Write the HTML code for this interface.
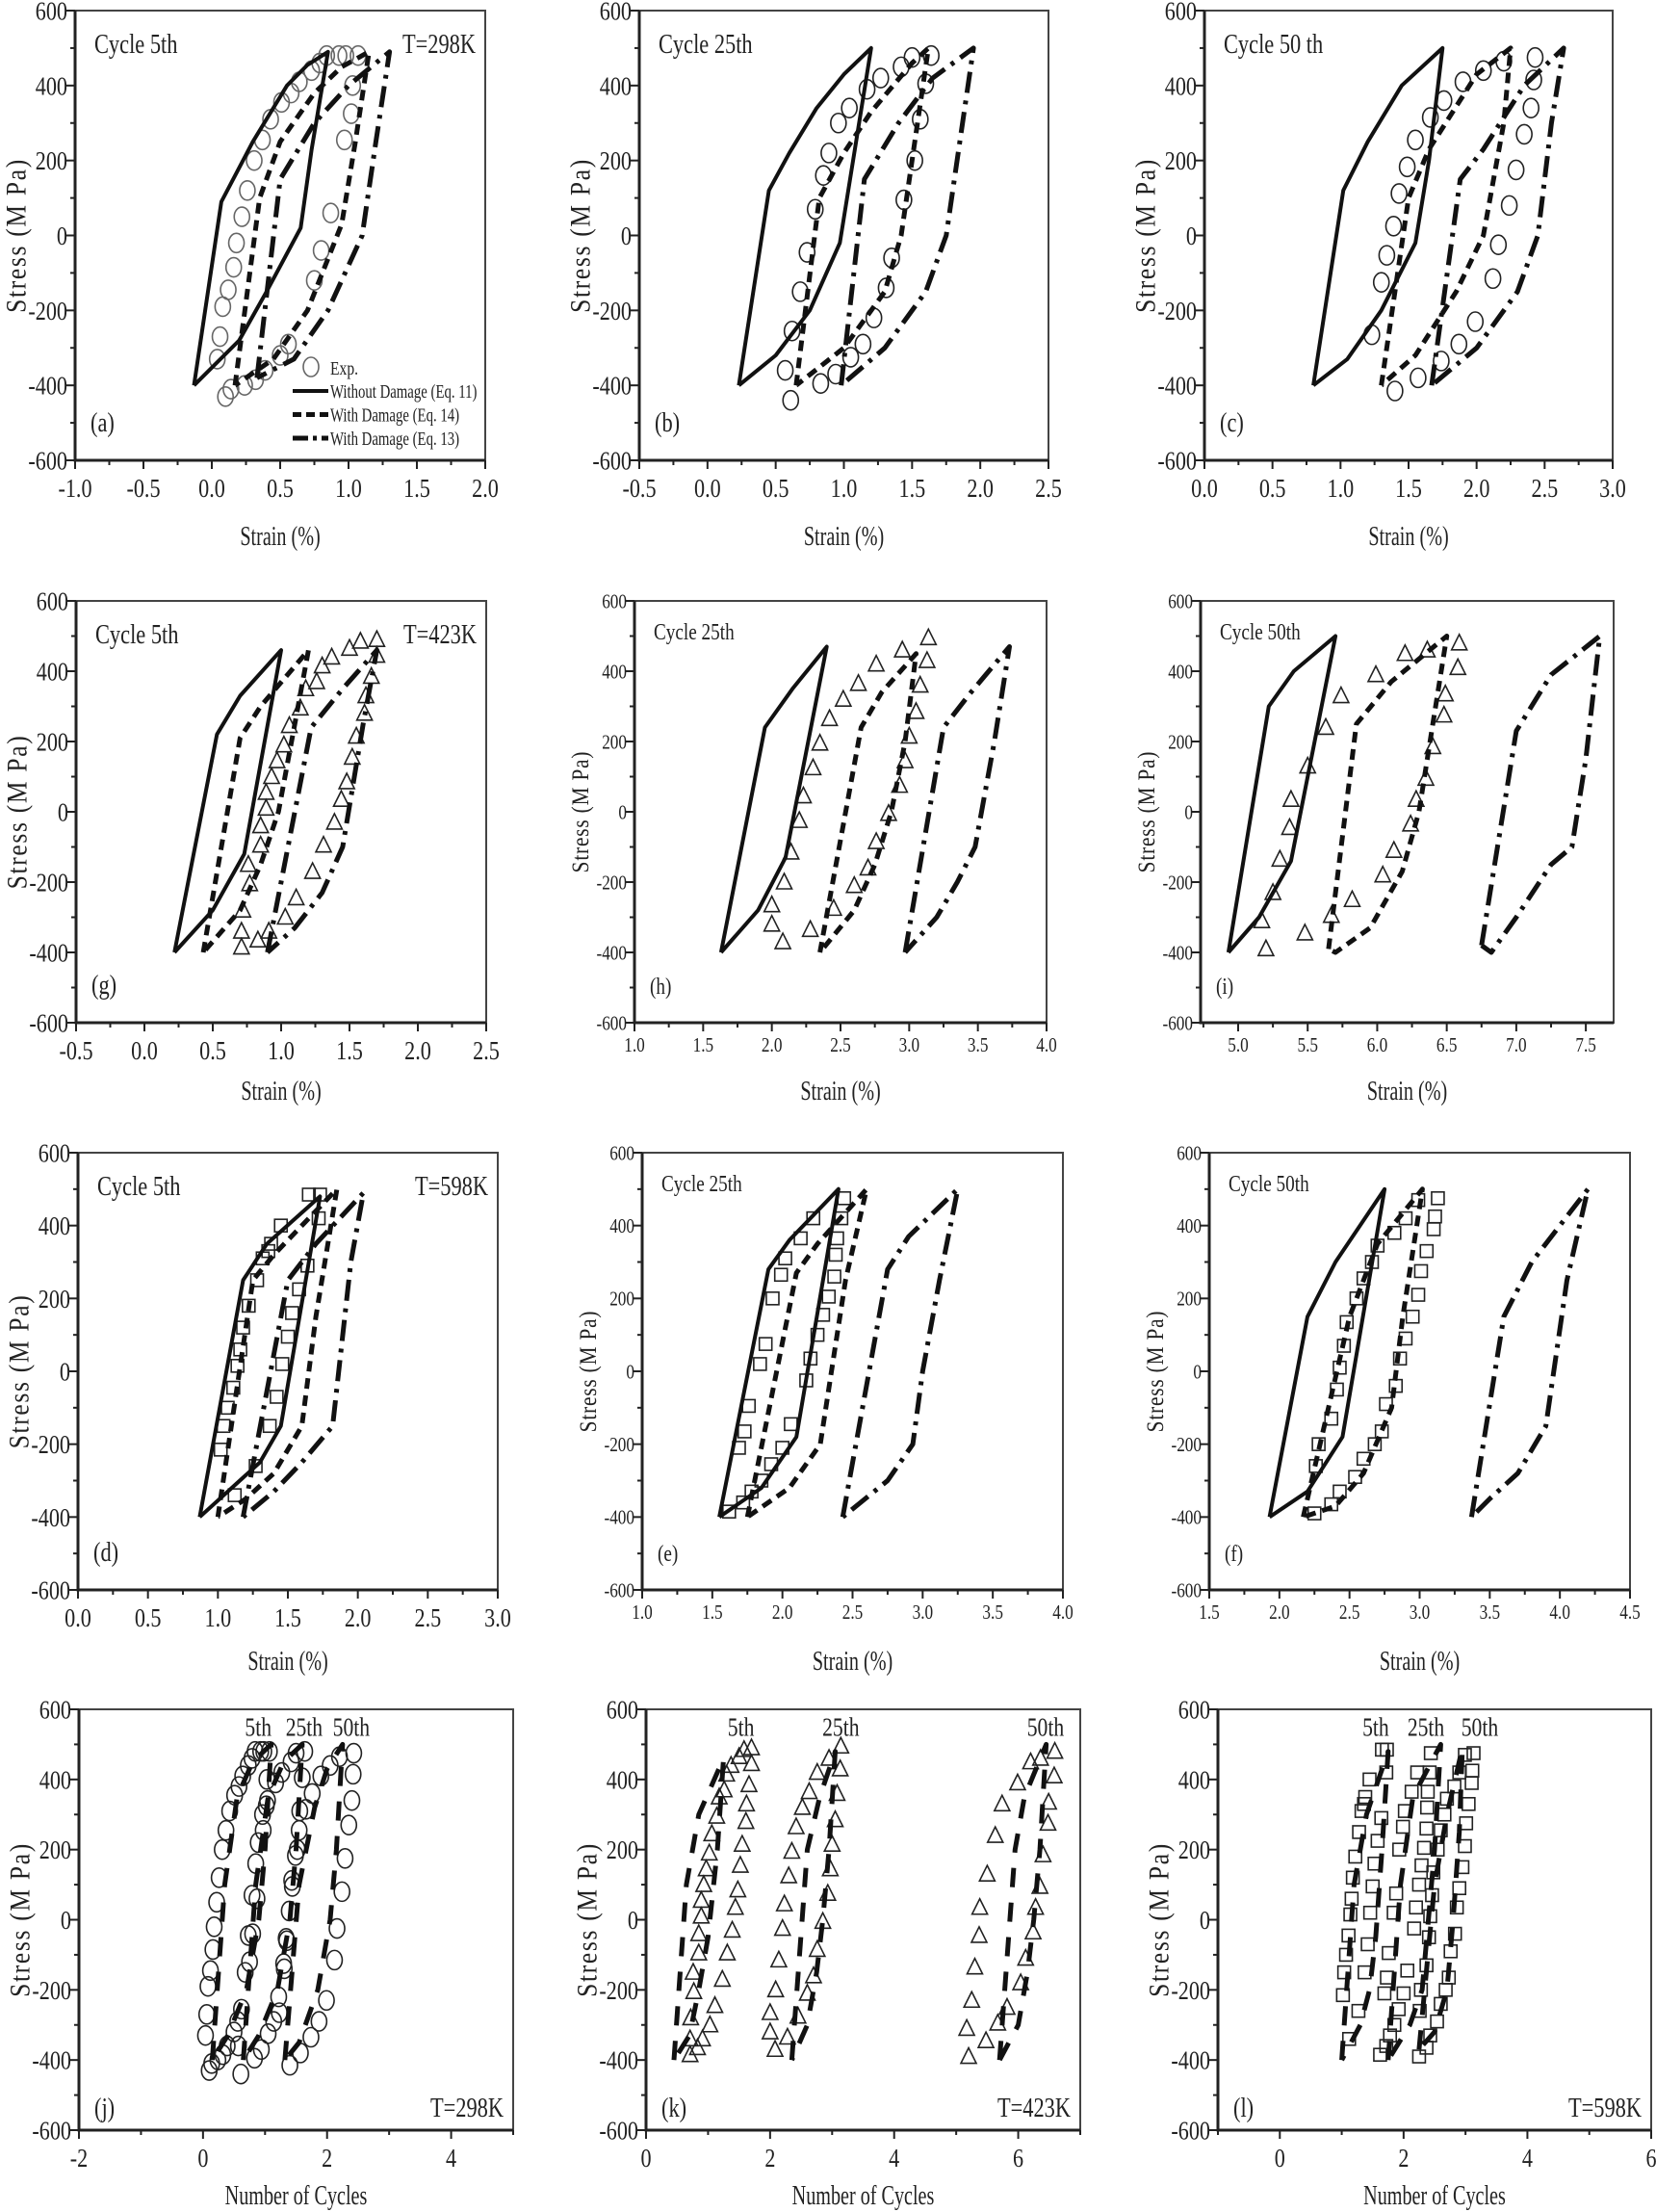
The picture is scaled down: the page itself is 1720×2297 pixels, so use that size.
<!DOCTYPE html>
<html><head><meta charset="utf-8"><title>Cyclic stress-strain loops</title>
<style>
html,body{margin:0;padding:0;background:#fff;}
svg{display:block;}
text{font-family:"Liberation Serif",serif;fill:#222;}
</style></head>
<body>
<svg id="fig" width="1720" height="2297" viewBox="0 0 1720 2297" xmlns="http://www.w3.org/2000/svg"></svg>
<script>
// ---------- data (strain %, stress MPa) ----------
const aSolid=[[-0.13,-400],[0.07,90],[0.3,250],[0.55,400],[0.7,455],[0.85,490],[0.73,230],[0.65,20],[0.4,-150],[0.2,-280],[-0.13,-400]];
const aDash=[[0.17,-400],[0.35,100],[0.5,250],[0.75,380],[0.95,450],[1.15,490],[1.05,250],[0.95,30],[0.7,-200],[0.45,-330],[0.17,-400]];
const aDashDot=[[0.33,-380],[0.5,150],[0.75,300],[1.0,400],[1.3,490],[1.2,250],[1.1,0],[0.85,-200],[0.6,-330],[0.33,-380]];
const aExp=[[0.93,480],[0.98,480],[1.07,480],[1.03,400],[1.02,325],[0.97,255],[0.87,60],[0.8,-40],[0.75,-120],[0.56,-290],[0.5,-320],[0.39,-360],[0.32,-385],[0.24,-400],[0.14,-410],[0.1,-430],[0.04,-330],[0.06,-270],[0.08,-190],[0.12,-145],[0.16,-85],[0.18,-20],[0.22,50],[0.26,120],[0.31,200],[0.37,255],[0.43,310],[0.51,355],[0.58,380],[0.64,410],[0.73,440],[0.79,460],[0.84,480]];

const bSolid=[[0.23,-400],[0.45,120],[0.6,220],[0.8,340],[1.0,430],[1.2,500],[0.97,-20],[0.75,-200],[0.5,-320],[0.23,-400]];
const bDash=[[0.65,-400],[0.82,100],[1.0,220],[1.2,330],[1.5,460],[1.62,500],[1.5,200],[1.42,0],[1.3,-150],[1.0,-300],[0.65,-400]];
const bDashDot=[[0.98,-400],[1.15,150],[1.4,300],[1.65,420],[1.95,500],[1.85,250],[1.75,0],[1.6,-150],[1.3,-300],[0.98,-400]];
const bExp=[[0.61,-440],[0.57,-360],[0.62,-255],[0.68,-150],[0.73,-45],[0.79,70],[0.85,160],[0.89,220],[0.96,300],[1.04,340],[1.17,390],[1.27,420],[1.42,450],[1.5,475],[1.64,480],[1.6,405],[1.56,310],[1.52,200],[1.44,95],[1.35,-60],[1.31,-140],[1.22,-220],[1.14,-290],[1.05,-325],[0.94,-370],[0.83,-395]];

const cSolid=[[0.8,-400],[1.02,120],[1.2,250],[1.45,400],[1.75,500],[1.65,200],[1.55,-20],[1.3,-200],[1.05,-330],[0.8,-400]];
const cDash=[[1.3,-400],[1.5,100],[1.65,230],[2.0,430],[2.25,500],[2.2,300],[2.05,0],[1.85,-150],[1.55,-320],[1.3,-400]];
const cDashDot=[[1.67,-400],[1.88,150],[2.05,230],[2.35,400],[2.64,500],[2.55,300],[2.45,0],[2.3,-150],[2.0,-300],[1.67,-400]];
const cExp=[[1.4,-415],[1.57,-380],[1.74,-335],[1.87,-290],[1.99,-230],[2.12,-115],[2.16,-25],[2.24,80],[2.29,175],[2.35,270],[2.4,340],[2.42,415],[2.43,475],[2.2,465],[2.05,440],[1.9,410],[1.76,360],[1.66,315],[1.55,255],[1.49,183],[1.43,112],[1.39,25],[1.34,-53],[1.3,-125],[1.23,-265]];

const gSolid=[[0.22,-400],[0.53,220],[0.7,330],[1.0,460],[0.73,-120],[0.5,-280],[0.22,-400]];
const gDash=[[0.43,-400],[0.7,210],[0.85,300],[1.2,460],[1.1,250],[0.98,0],[0.85,-150],[0.7,-280],[0.43,-400]];
const gDashDot=[[0.9,-400],[1.22,240],[1.45,350],[1.7,460],[1.6,250],[1.45,-100],[1.3,-230],[1.1,-330],[0.9,-400]];
const gExp=[[1.7,490],[1.58,485],[1.5,465],[1.37,440],[1.3,415],[1.26,370],[1.18,350],[1.14,295],[1.06,245],[1.02,190],[0.97,145],[0.93,100],[0.89,55],[0.89,10],[0.85,-40],[0.85,-95],[0.76,-150],[0.77,-205],[0.72,-280],[0.71,-340],[0.71,-385],[0.83,-365],[0.91,-340],[1.03,-300],[1.11,-245],[1.23,-170],[1.31,-95],[1.39,-30],[1.44,35],[1.48,85],[1.52,155],[1.55,215],[1.61,280],[1.62,330],[1.66,385],[1.7,445]];

const hSolid=[[1.63,-400],[1.95,240],[2.15,350],[2.4,470],[2.1,-130],[1.9,-280],[1.63,-400]];
const hDash=[[2.35,-400],[2.65,240],[2.8,340],[3.05,450],[2.97,200],[2.87,0],[2.75,-150],[2.6,-280],[2.35,-400]];
const hDashDot=[[2.97,-400],[3.25,240],[3.45,340],[3.73,470],[3.62,200],[3.48,-100],[3.35,-200],[3.2,-300],[2.97,-400]];
const hExp=[[2.0,-265],[2.0,-320],[2.08,-370],[2.28,-335],[2.45,-275],[2.6,-210],[2.7,-160],[2.76,-85],[2.85,-5],[2.93,75],[2.97,145],[3.0,215],[3.05,285],[3.08,360],[3.13,430],[3.14,495],[2.95,460],[2.76,420],[2.63,365],[2.52,320],[2.42,265],[2.35,195],[2.3,125],[2.23,45],[2.2,-25],[2.14,-115],[2.09,-200]];

const iSolid=[[4.93,-400],[5.22,300],[5.4,400],[5.7,500],[5.38,-140],[5.15,-300],[4.93,-400]];
const iDash=[[5.65,-390],[5.85,250],[6.1,370],[6.5,500],[6.4,250],[6.3,0],[6.18,-170],[5.95,-330],[5.7,-400],[5.65,-390]];
const iDashDot=[[6.75,-380],[7.0,230],[7.25,390],[7.6,500],[7.5,150],[7.4,-100],[7.25,-150],[7.0,-300],[6.82,-400],[6.75,-380]];
const iExp=[[5.2,-390],[5.17,-310],[5.25,-230],[5.3,-135],[5.37,-45],[5.38,35],[5.5,130],[5.63,240],[5.74,330],[5.99,390],[6.2,450],[6.36,460],[6.59,480],[6.58,410],[6.49,335],[6.48,275],[6.4,185],[6.35,95],[6.28,35],[6.24,-35],[6.12,-110],[6.04,-180],[5.82,-250],[5.67,-295],[5.48,-345]];

const dSolid=[[0.87,-400],[1.18,250],[1.35,350],[1.73,480],[1.45,-150],[1.3,-250],[0.87,-400]];
const dDash=[[1.0,-400],[1.25,250],[1.4,320],[1.85,500],[1.7,150],[1.6,-150],[1.4,-280],[1.2,-350],[1.0,-400]];
const dDashDot=[[1.18,-400],[1.5,250],[1.7,350],[2.04,490],[1.95,300],[1.82,-150],[1.6,-250],[1.4,-330],[1.18,-400]];
const dExp=[[1.65,485],[1.73,485],[1.72,420],[1.64,290],[1.58,225],[1.53,160],[1.5,95],[1.46,20],[1.42,-70],[1.37,-150],[1.27,-260],[1.12,-340],[1.02,-215],[1.04,-150],[1.07,-100],[1.11,-45],[1.14,15],[1.16,60],[1.18,120],[1.22,180],[1.28,250],[1.32,310],[1.36,330],[1.38,350],[1.45,400]];

const eSolid=[[1.55,-400],[1.9,280],[2.05,360],[2.4,500],[2.1,-180],[1.85,-320],[1.55,-400]];
const eDash=[[1.75,-400],[2.1,270],[2.25,350],[2.6,500],[2.45,250],[2.35,0],[2.27,-200],[2.05,-320],[1.75,-400]];
const eDashDot=[[2.43,-400],[2.75,280],[2.9,370],[3.25,500],[3.12,250],[3.0,0],[2.93,-200],[2.75,-300],[2.43,-400]];
const eExp=[[1.62,-385],[1.72,-360],[1.78,-330],[1.85,-300],[1.92,-255],[2.0,-210],[2.06,-145],[2.17,-25],[2.2,35],[2.25,100],[2.29,155],[2.33,205],[2.37,260],[2.38,320],[2.39,365],[2.42,420],[2.44,475],[2.22,420],[2.13,365],[2.02,310],[1.99,265],[1.93,200],[1.88,75],[1.84,20],[1.76,-95],[1.73,-165],[1.69,-210]];

const fSolid=[[1.93,-400],[2.2,150],[2.4,300],[2.75,500],[2.45,-180],[2.2,-330],[1.93,-400]];
const fDash=[[2.17,-400],[2.5,150],[2.7,350],[3.02,500],[2.88,150],[2.8,-100],[2.6,-280],[2.4,-370],[2.17,-400]];
const fDashDot=[[3.37,-400],[3.6,150],[3.8,300],[4.2,500],[4.05,250],[3.9,-150],[3.7,-280],[3.5,-350],[3.37,-400]];
const fExp=[[2.25,-390],[2.37,-365],[2.43,-330],[2.54,-290],[2.6,-240],[2.68,-200],[2.73,-165],[2.76,-90],[2.83,-40],[2.86,35],[2.9,90],[2.95,150],[2.99,210],[3.01,275],[3.05,330],[3.1,390],[3.11,425],[3.13,475],[2.99,470],[2.9,420],[2.82,380],[2.7,345],[2.66,300],[2.6,255],[2.55,200],[2.48,135],[2.46,70],[2.43,10],[2.41,-50],[2.37,-130],[2.28,-200],[2.26,-260]];

// number-of-cycles panels
const jLoop5=[[0.15,-400],[0.35,100],[0.55,350],[0.8,450],[1.1,500],[1.0,200],[0.9,0],[0.7,-200],[0.4,-330],[0.15,-400]];
const jLoop25=[[0.65,-400],[0.85,100],[1.05,350],[1.3,450],[1.6,500],[1.5,200],[1.4,0],[1.2,-200],[0.9,-330],[0.65,-400]];
const jLoop50=[[1.32,-400],[1.55,100],[1.8,320],[2.0,430],[2.25,500],[2.15,200],[2.05,0],[1.85,-200],[1.55,-350],[1.32,-400]];
const kLoop5=[[0.45,-400],[0.65,100],[0.85,300],[1.25,460],[1.15,200],[1.0,-50],[0.85,-200],[0.7,-330],[0.45,-400]];
const kLoop25=[[2.35,-400],[2.6,200],[2.8,350],[3.05,480],[2.95,200],[2.85,0],[2.75,-150],[2.6,-300],[2.35,-400]];
const kLoop50=[[5.7,-400],[5.95,200],[6.1,350],[6.45,500],[6.35,200],[6.25,0],[6.15,-150],[6.0,-300],[5.7,-400]];
const lLoop5=[[1.0,-400],[1.2,100],[1.4,300],[1.75,480],[1.65,200],[1.55,-50],[1.45,-200],[1.3,-300],[1.0,-400]];
const lLoop25=[[1.75,-400],[1.95,100],[2.15,350],[2.6,500],[2.5,200],[2.4,0],[2.3,-200],[2.1,-300],[1.75,-400]];
const lLoop50=[[2.25,-370],[2.5,100],[2.7,300],[2.95,490],[2.9,250],[2.8,0],[2.7,-200],[2.5,-320],[2.25,-370]];
const cycleLabels=['5th','25th','50th'];
const jLabelX=[0.89,1.63,2.39];
const kLabelX=[1.53,3.14,6.44];
const lLabelX=[1.55,2.36,3.23];

// ---------- rendering ----------
const NS='http://www.w3.org/2000/svg';
const svg=document.getElementById('fig');
function mk(tag,parent){const e=document.createElementNS(NS,tag);parent.appendChild(e);return e;}
function txt(parent,x,y,s,size,anchor,sx){
  const t=mk('text',parent);
  t.setAttribute('transform','translate('+x+','+y+') scale('+sx+',1)');
  t.setAttribute('font-size',size);
  t.setAttribute('text-anchor',anchor);
  t.textContent=s;
  return t;
}
const STYLES={
  solid:{w:4,d:null},
  dash:{w:5,d:'11 7'},
  dashdot:{w:5,d:'22 8 4 8'},
  long:{w:5,d:'20 16'}
};
const panels=[
 {id:'a',box:[78,11,504,478],x:[-1,2],xs:0.5,xm:0.25,dec:1,fs:27,lines:[['solid',aSolid],['dash',aDash],['dashdot',aDashDot]],exp:[aExp],mk:'circle',gray:true,title:'Cycle 5th',temp:'T=298K',legend:true},
 {id:'b',box:[664,11,1089,478],x:[-0.5,2.5],xs:0.5,xm:0.25,dec:1,fs:27,lines:[['solid',bSolid],['dash',bDash],['dashdot',bDashDot]],exp:[bExp],mk:'circle',title:'Cycle 25th'},
 {id:'c',box:[1251,11,1675,478],x:[0,3],xs:0.5,xm:0.25,dec:1,fs:27,lines:[['solid',cSolid],['dash',cDash],['dashdot',cDashDot]],exp:[cExp],mk:'circle',title:'Cycle 50 th'},
 {id:'g',box:[79,624,505,1062],x:[-0.5,2.5],xs:0.5,xm:0.25,dec:1,fs:27,lines:[['solid',gSolid],['dash',gDash],['dashdot',gDashDot]],exp:[gExp],mk:'tri',title:'Cycle 5th',temp:'T=423K'},
 {id:'h',box:[659,624,1087,1062],x:[1,4],xs:0.5,xm:0.25,dec:1,fs:21,lines:[['solid',hSolid],['dash',hDash],['dashdot',hDashDot]],exp:[hExp],mk:'tri',title:'Cycle 25th'},
 {id:'i',box:[1247,624,1676,1062],x:[4.73,7.7],xs:0.5,xm:0.25,dec:1,fs:21,lines:[['solid',iSolid],['dash',iDash],['dashdot',iDashDot]],exp:[iExp],mk:'tri',title:'Cycle 50th'},
 {id:'d',box:[81,1197,517,1651],x:[0,3],xs:0.5,xm:0.25,dec:1,fs:27,lines:[['solid',dSolid],['dash',dDash],['dashdot',dDashDot]],exp:[dExp],mk:'sq',title:'Cycle 5th',temp:'T=598K'},
 {id:'e',box:[667,1197,1104,1651],x:[1,4],xs:0.5,xm:0.25,dec:1,fs:21,lines:[['solid',eSolid],['dash',eDash],['dashdot',eDashDot]],exp:[eExp],mk:'sq',title:'Cycle 25th'},
 {id:'f',box:[1256,1197,1693,1651],x:[1.5,4.5],xs:0.5,xm:0.25,dec:1,fs:21,lines:[['solid',fSolid],['dash',fDash],['dashdot',fDashDot]],exp:[fExp],mk:'sq',title:'Cycle 50th'},
 {id:'j',box:[82,1775,533,2212],x:[-2,5],xs:2,xm:1,dec:0,fs:27,lines:[['long',jLoop5],['long',jLoop25],['long',jLoop50]],exp:[aExp,bExp,cExp],mk:'circle',temp:'T=298K',cyc:jLabelX,xt:'Number of Cycles'},
 {id:'k',box:[671,1775,1122,2212],x:[0,7],xs:2,xm:1,dec:0,fs:27,lines:[['long',kLoop5],['long',kLoop25],['long',kLoop50]],exp:[gExp,hExp,iExp],mk:'tri',temp:'T=423K',cyc:kLabelX,xt:'Number of Cycles'},
 {id:'l',box:[1265,1775,1715,2212],x:[-1,6],xs:2,xm:1,dec:0,fs:27,lines:[['long',lLoop5],['long',lLoop25],['long',lLoop50]],exp:[dExp,eExp,fExp],mk:'sq',temp:'T=598K',cyc:lLabelX,xt:'Number of Cycles'}
];

panels.forEach(p=>{
  const [L,T,R,B]=p.box;
  const sx=v=>L+(v-p.x[0])/(p.x[1]-p.x[0])*(R-L);
  const sy=v=>B-(v+600)/1200*(B-T);
  const g=mk('g',svg);
  
  
  const fr=mk('rect',g);
  fr.setAttribute('x',L);fr.setAttribute('y',T);fr.setAttribute('width',R-L);fr.setAttribute('height',B-T);
  fr.setAttribute('fill','none');fr.setAttribute('stroke','#444');fr.setAttribute('stroke-width','2');
  
  
  const ax=mk('path',g);
  ax.setAttribute('d','M'+L+' '+T+'V'+B+'H'+R);
  ax.setAttribute('fill','none');ax.setAttribute('stroke','#222');ax.setAttribute('stroke-width','3');
  
  
  const yt=mk('g',g);
  
  
  for(let v=-600;v<=600;v+=100){
    const major=v%200===0;
    const t=mk('line',yt);
    t.setAttribute('x1',L);t.setAttribute('x2',L-(major?9:5));t.setAttribute('y1',sy(v));t.setAttribute('y2',sy(v));
    t.setAttribute('stroke','#222');t.setAttribute('stroke-width','2');
    if(major){
      const lb=txt(yt,L-8,sy(v)+p.fs*0.35,String(v),p.fs,'end',0.82);
      
      
    }
  }
  const xt=mk('g',g);
  
  
  const start=Math.ceil((p.x[0]-1e-9)/p.xm)*p.xm;
  for(let v=start;v<=p.x[1]+1e-9;v+=p.xm){
    const vv=Math.round(v*1000)/1000;
    const major=Math.abs(vv/p.xs-Math.round(vv/p.xs))<1e-6;
    const t=mk('line',xt);
    t.setAttribute('x1',sx(vv));t.setAttribute('x2',sx(vv));t.setAttribute('y1',B);t.setAttribute('y2',B+(major?9:5));
    t.setAttribute('stroke','#222');t.setAttribute('stroke-width','2');
    if(major){
      const lb=txt(xt,sx(vv),B+(p.fs>22?38:30),vv.toFixed(p.dec),p.fs,'middle',0.82);
      
      
    }
  }
  let xty;
  if(['a','b','c'].includes(p.id)) xty=566;
  else if(['g','h','i'].includes(p.id)) xty=1142;
  else if(['d','e','f'].includes(p.id)) xty=1734;
  else xty=2289;
  const xtl=txt(g,(L+R)/2,xty,p.xt||'Strain (%)',28,'middle',0.72);
  
  
  const ytl=mk('text',g);
  const cx=L-(p.fs>22?62:57),cy=(T+B)/2;
  ytl.setAttribute('transform','translate('+cx+','+cy+') rotate(-90) scale(0.85,1)');
  ytl.setAttribute('font-size',p.fs>22?30:25);
  ytl.setAttribute('text-anchor','middle');
  ytl.setAttribute('dy','0.35em');
  ytl.setAttribute('letter-spacing',p.fs>22?'2':'1');
  ytl.textContent='Stress (M Pa)';
  
  
  p.exp.forEach((arr,si)=>{
    const mg=mk('g',g);
    
    
    arr.forEach(pt=>{
      const X=sx(pt[0]),Y=sy(pt[1]);
      let m;
      if(p.mk==='circle'){
        m=mk('ellipse',mg);m.setAttribute('cx',X);m.setAttribute('cy',Y);m.setAttribute('rx',8);m.setAttribute('ry',10);
      }else if(p.mk==='tri'){
        m=mk('path',mg);m.setAttribute('d','M'+X+' '+(Y-9)+'L'+(X+8)+' '+(Y+7)+'L'+(X-8)+' '+(Y+7)+'Z');
      }else{
        m=mk('rect',mg);m.setAttribute('x',X-6.5);m.setAttribute('y',Y-6.5);m.setAttribute('width',13);m.setAttribute('height',13);
      }
      m.setAttribute('fill','#fff');m.setAttribute('fill-opacity','0');
      m.setAttribute('stroke',p.gray?'#666':'#222');m.setAttribute('stroke-width','1.6');
      
      
    });
  });
  p.lines.forEach(([st,arr],li)=>{
    const pl=mk('polyline',g);
    pl.setAttribute('points',arr.map(q=>sx(q[0]).toFixed(1)+','+sy(q[1]).toFixed(1)).join(' '));
    pl.setAttribute('fill','none');pl.setAttribute('stroke','#111');
    pl.setAttribute('stroke-width',STYLES[st].w);
    pl.setAttribute('stroke-linejoin','round');
    if(STYLES[st].d) pl.setAttribute('stroke-dasharray',STYLES[st].d);
    
    
  });
  if(p.title){
    const tt=txt(g,L+20,T+(p.fs>22?44:40),p.title,p.fs>22?28:24,'start',0.8);
    
    
  }
  if(p.temp){
    const ty=p.cyc?B-14:T+(p.fs>22?44:40);
    const te=txt(g,R-10,ty,p.temp,28,'end',0.8);
    
    
  }
  const pid=txt(g,L+16,B-(p.cyc?14:30),'('+p.id+')',p.fs>22?28:24,'start',0.8);
  
  
  if(p.cyc){
    p.cyc.forEach((xv,ci)=>{
      const cl=txt(g,sx(xv),sy(525),cycleLabels[ci],27,'middle',0.8);
      
      
    });
  }
  if(p.legend){
    const lg=mk('g',g);
    
    
    const c=mk('ellipse',lg);
    c.setAttribute('cx',323);c.setAttribute('cy',381);c.setAttribute('rx',8);c.setAttribute('ry',10);
    c.setAttribute('fill','none');c.setAttribute('stroke','#666');c.setAttribute('stroke-width','1.6');
    
    
    const le=txt(lg,343,389,'Exp.',20,'start',0.78);
    
    
    const entries=[['solid','Without Damage (Eq. 11)'],['dash','With Damage (Eq. 14)'],['dashdot','With Damage (Eq. 13)']];
    entries.forEach((en,k)=>{
      const y=406+k*24.5;
      const ln=mk('line',lg);
      ln.setAttribute('x1',304);ln.setAttribute('x2',341);ln.setAttribute('y1',y);ln.setAttribute('y2',y);
      ln.setAttribute('stroke','#111');ln.setAttribute('stroke-width',STYLES[en[0]].w);
      if(STYLES[en[0]].d) ln.setAttribute('stroke-dasharray',en[0]==='dash'?'9 5':'16 5 4 5');
      
      
      const lt=txt(lg,343,y+7,en[1],20,'start',0.74);
      
      
    });
  }
});
</script>
</body></html>
